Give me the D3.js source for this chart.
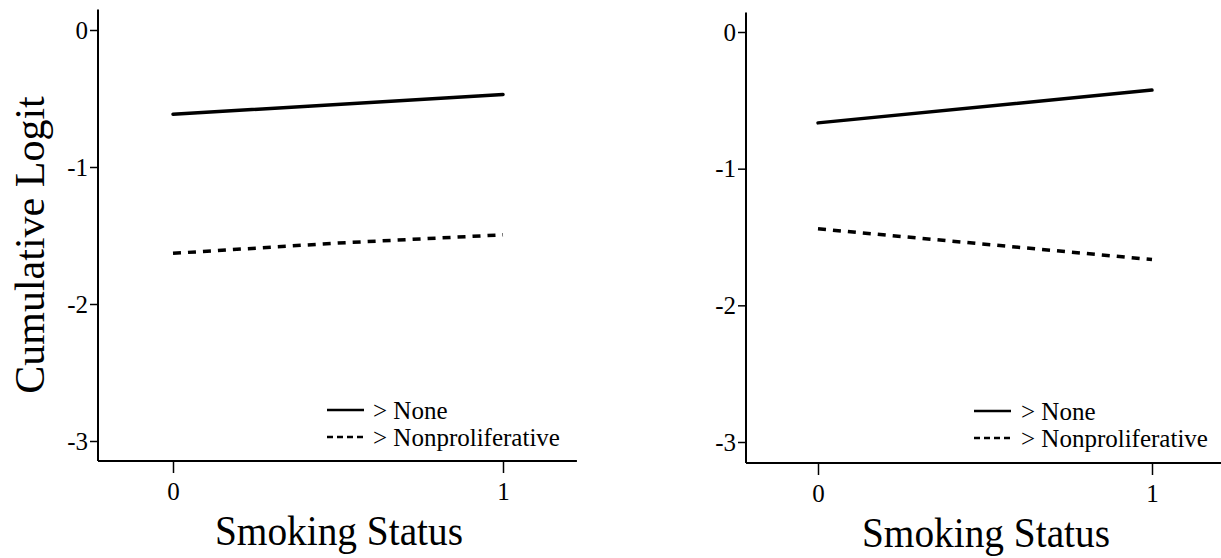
<!DOCTYPE html>
<html>
<head>
<meta charset="utf-8">
<script src="https://cdn.jsdelivr.net/npm/d3@7"></script>
<style>
  html, body { margin: 0; padding: 0; background: #fff; }
  svg { display: block; }
</style>
</head>
<body>
<svg id="chart" width="1221" height="558" font-family="Liberation Serif, Times New Roman, serif"></svg>
<script>
// ---- data ----
const smokingStatus = [0, 1];
const xTickValues = [0, 1];
const yTickValues = [0, -1, -2, -3];
const seriesNames = ["> None", "> Nonproliferative"];
const xTitle = "Smoking Status";
const yTitle = "Cumulative Logit";

// left panel
const leftNoneX = [0, 1];
const leftNone = [-0.615, -0.47];
const leftNonprolifX = [0, 0.5, 1];
const leftNonprolif = [-1.63, -1.555, -1.495];

// right panel
const rightNoneX = [0, 1];
const rightNone = [-0.665, -0.425];
const rightNonprolifX = [0, 1];
const rightNonprolif = [-1.44, -1.665];

// ---- layout ----
const FONT = "Liberation Serif, Times New Roman, serif";
const svg = d3.select("#chart");

const panels = [
  { axisX: 98, axisY: 461, xMax: 1.224, x0px: 173, x1px: 503,
    y0px: 30, y3px: 441, yTop: 0.15,
    none: [leftNoneX, leftNone], nonp: [leftNonprolifX, leftNonprolif],
    showYTitle: true, legendX: 327, legendTextX: 373, legendY: 410, xTitleX: 339, xTitleY: 545 },
  { axisX: 746, axisY: 463, xMax: 1.22, x0px: 818, x1px: 1152,
    y0px: 32, y3px: 442, yTop: 0.143,
    none: [rightNoneX, rightNone], nonp: [rightNonprolifX, rightNonprolif],
    showYTitle: false, legendX: 974, legendTextX: 1021, legendY: 411, xTitleX: 986, xTitleY: 547 }
];

panels.forEach(p => {
  const x = d3.scaleLinear().domain([0, 1]).range([p.x0px, p.x1px]);
  const y = d3.scaleLinear().domain([0, -3]).range([p.y0px, p.y3px]);
  const xLeft = x.invert(p.axisX);

  const g = svg.append("g");

  // y axis
  const yAxis = d3.axisLeft(y).tickValues(yTickValues).tickSize(8).tickPadding(2)
    .tickFormat(d => String(d));
  const gy = g.append("g").attr("transform", `translate(${p.axisX},0)`).call(yAxis)
    .attr("font-family", FONT).attr("font-size", 25);
  gy.select(".domain").remove();
  gy.append("line")
    .attr("x1", 0).attr("x2", 0)
    .attr("y1", y(p.yTop)).attr("y2", p.axisY)
    .attr("stroke", "#000").attr("stroke-width", 2);
  gy.selectAll(".tick line").attr("stroke", "#000").attr("stroke-width", 1.5);
  gy.selectAll(".tick text").attr("fill", "#000").attr("font-family", FONT).attr("font-size", 25);

  // x axis
  const xAxis = d3.axisBottom(x).tickValues(xTickValues).tickSize(12).tickPadding(9)
    .tickFormat(d => String(d));
  const gx = g.append("g").attr("transform", `translate(0,${p.axisY})`).call(xAxis)
    .attr("font-family", FONT).attr("font-size", 25);
  gx.select(".domain").remove();
  gx.append("line")
    .attr("x1", x(xLeft)).attr("x2", x(p.xMax))
    .attr("y1", 0).attr("y2", 0)
    .attr("stroke", "#000").attr("stroke-width", 2);
  gx.selectAll(".tick line").attr("stroke", "#000").attr("stroke-width", 1.5);
  gx.selectAll(".tick text").attr("fill", "#000").attr("font-family", FONT).attr("font-size", 25);

  // lines
  const line = d3.line().x(d => x(d[0])).y(d => y(d[1]));
  const nonePts = p.none[0].map((v, i) => [v, p.none[1][i]]);
  const nonpPts = p.nonp[0].map((v, i) => [v, p.nonp[1][i]]);
  g.append("path").datum(nonePts).attr("d", line)
    .attr("fill", "none").attr("stroke", "#000").attr("stroke-width", 3.5)
    .attr("stroke-linecap", "round");
  g.append("path").datum(nonpPts).attr("d", line)
    .attr("fill", "none").attr("stroke", "#000").attr("stroke-width", 3.5)
    .attr("stroke-dasharray", "8,7");

  // x title
  g.append("text")
    .attr("x", p.xTitleX)
    .attr("y", p.xTitleY)
    .attr("text-anchor", "middle")
    .attr("font-family", FONT)
    .attr("font-size", 42)
    .attr("textLength", 248).attr("lengthAdjust", "spacingAndGlyphs")
    .text(xTitle);

  // y title
  if (p.showYTitle) {
    g.append("text")
      .attr("transform", `translate(44,245) rotate(-90)`)
      .attr("text-anchor", "middle")
      .attr("font-family", FONT)
      .attr("font-size", 42)
      .text(yTitle);
  }

  // legend
  const lg = g.append("g").attr("transform", `translate(${p.legendX},${p.legendY})`);
  const styles = [null, "6,4"];
  seriesNames.forEach((name, i) => {
    const yy = i * 27;
    lg.append("line")
      .attr("x1", 0).attr("x2", 37).attr("y1", yy).attr("y2", yy)
      .attr("stroke", "#000").attr("stroke-width", 2.5)
      .attr("stroke-dasharray", styles[i]);
  });
  seriesNames.forEach((name, i) => {
    g.append("text")
      .attr("x", p.legendTextX).attr("y", p.legendY + i * 27 + 9)
      .attr("font-family", FONT)
      .attr("font-size", 25)
      .text(name);
  });
});
</script>
</body>
</html>
